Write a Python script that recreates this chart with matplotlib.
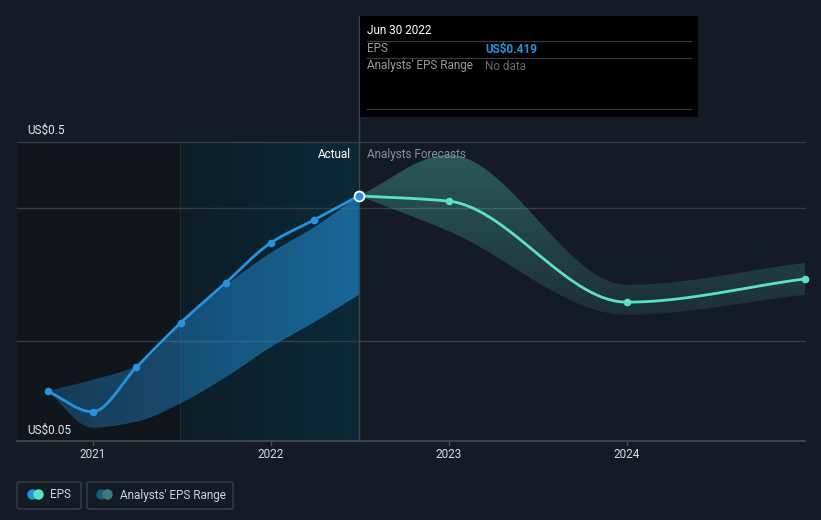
import numpy as np
import matplotlib
matplotlib.use("Agg")
import matplotlib.pyplot as plt
import matplotlib.dates as mdates
from matplotlib.patches import Rectangle, FancyBboxPatch, Circle
from datetime import date

plt.rcParams['font.family'] = ['Roboto', 'DejaVu Sans']

# ---------------- data ----------------
actual_dates = ["2020-09-30", "2020-12-31", "2021-03-31", "2021-06-30",
                "2021-09-30", "2021-12-31", "2022-03-31", "2022-06-30"]
actual_eps = [0.125, 0.094, 0.161, 0.228, 0.288, 0.348, 0.383, 0.419]
past_range_low = [0.125, 0.070, 0.079, 0.107, 0.146, 0.191, 0.229, 0.270]
past_range_high = [0.125, 0.142, 0.163, 0.226, 0.284, 0.333, 0.372, 0.419]

forecast_dates = ["2022-06-30", "2022-12-31", "2023-12-31", "2024-12-31"]
forecast_eps = [0.419, 0.411, 0.259, 0.294]
forecast_low = [0.419, 0.366, 0.240, 0.270]
forecast_high = [0.419, 0.481, 0.285, 0.318]

year_ticks = ["2021", "2022", "2023", "2024"]
y_labels = ["US$0.5", "US$0.05"]
y_label_values = [0.5, 0.05]
grid_values = [0.5, 0.4, 0.2]

BG = "#151b24"
BLUE = "#2394df"
TEAL = "#5ce1c9"

W, H = 821, 520
fig = plt.figure(figsize=(W / 100, H / 100), dpi=100, facecolor=BG)
ax = fig.add_axes([0, 0, 1, 1])
ax.set_facecolor(BG)
ax.axis("off")

# pixel <-> data mapping
d2021 = mdates.date2num(date(2021, 1, 1))
d2024 = mdates.date2num(date(2024, 1, 1))
pxday = (627 - 93) / (d2024 - d2021)
def xd(px):
    return d2021 + (px - 93) / pxday
ypu = (441 - 142) / 0.45
def yd(py):
    return 0.5 - (py - 142) / ypu
ax.set_xlim(xd(0), xd(W))
ax.set_ylim(yd(H), yd(0))

def fx(px):
    return px / W
def fy(py):
    return 1 - py / H

def todn(lst):
    return np.array([mdates.datestr2num(s) for s in lst])

def pchip(x, y, n=30):
    x = np.asarray(x, float); y = np.asarray(y, float)
    h = np.diff(x); d = np.diff(y) / h
    m = np.zeros_like(y)
    m[0] = d[0]; m[-1] = d[-1]
    for k in range(1, len(x) - 1):
        if d[k - 1] * d[k] <= 0:
            m[k] = 0
        else:
            w1 = 2 * h[k] + h[k - 1]; w2 = h[k] + 2 * h[k - 1]
            m[k] = (w1 + w2) / (w1 / d[k - 1] + w2 / d[k])
    xs, ys = [], []
    for k in range(len(x) - 1):
        t = np.linspace(0, 1, n, endpoint=(k == len(x) - 2))
        h00 = 2*t**3 - 3*t**2 + 1; h10 = t**3 - 2*t**2 + t
        h01 = -2*t**3 + 3*t**2; h11 = t**3 - t**2
        xs.append(x[k] + t * h[k])
        ys.append(h00*y[k] + h10*h[k]*m[k] + h01*y[k+1] + h11*h[k]*m[k+1])
    return np.concatenate(xs), np.concatenate(ys)

ax_x = todn(actual_dates)
fc_x = todn(forecast_dates)

# ---------------- background regions ----------------
ax.add_patch(Rectangle((xd(17), yd(441)), xd(180) - xd(17), yd(142) - yd(441),
                       facecolor="#11151c", edgecolor="none", zorder=0))
grad = np.linspace(0, 1, 256)[None, :]
c0 = np.array([0x0d, 0x1d, 0x27]) / 255
c1 = np.array([0x0b, 0x2a, 0x3a]) / 255
img = c0[None, None, :] * (1 - grad[..., None]) + c1[None, None, :] * grad[..., None]
ax.imshow(img, extent=(xd(180), xd(359), yd(441), yd(142)), aspect="auto", zorder=0.5,
          interpolation="bilinear")
ax.plot([xd(180), xd(180)], [yd(441), yd(142)], color="#1c2a35", lw=0.8, zorder=0.6)

# grid lines
for g in grid_values:
    ax.plot([xd(17), xd(805)], [g, g], color="#363b46", lw=1, zorder=1)
ax.plot([xd(17), xd(805)], [0.05, 0.05], color="#454b56", lw=1.2, zorder=1)
for i, yl in enumerate(year_ticks):
    xv = mdates.date2num(date(int(yl), 1, 1))
    ax.plot([xv, xv], [0.05, yd(445)], color="#454b56", lw=1, zorder=1)
    ax.text(xv, yd(455), yl, color="#d8dade", fontsize=8.5, ha="center", va="center")

for lab, v in zip(y_labels, y_label_values):
    ax.text(xd(27), yd(130) if v == 0.5 else yd(430), lab, color="#e6e8ea",
            fontsize=8.5, ha="left", va="center")

# vertical "today" line
ax.plot([xd(359), xd(359)], [yd(441), yd(16)], color="#34475a", lw=1, zorder=2)

# ---------------- past range band (gradient) ----------------
lx, ly = pchip(ax_x, past_range_low)
hx, hy = pchip(ax_x, past_range_high)
poly = ax.fill_between(hx, hy, np.interp(hx, lx, ly), color="none", zorder=2)
g2 = np.linspace(0, 1, 256)[None, :]
rgba = np.zeros((1, 256, 4))
rgba[..., :3] = np.array([0x23, 0x94, 0xdf]) / 255
rgba[..., 3] = 0.30 + 0.28 * g2
im = ax.imshow(rgba, extent=(xd(47), xd(359), yd(441), yd(142)), aspect="auto",
               zorder=2, interpolation="bilinear")
im.set_clip_path(poly.get_paths()[0], transform=ax.transData)

# ---------------- forecast band (vertical gradient) ----------------
flx, fly = pchip(fc_x, forecast_low)
fhx, fhy = pchip(fc_x, forecast_high)
poly2 = ax.fill_between(fhx, fhy, np.interp(fhx, flx, fly), color="none", zorder=2)
gv = np.linspace(1, 0, 256)[:, None]
rgba2 = np.zeros((256, 1, 4))
rgba2[..., :3] = np.array([0x5c, 0xe1, 0xc9]) / 255
rgba2[..., 3] = 0.10 + 0.22 * gv
im2 = ax.imshow(rgba2, extent=(xd(359), xd(805), yd(320), yd(150)), aspect="auto",
                zorder=2, interpolation="bilinear")
im2.set_clip_path(poly2.get_paths()[0], transform=ax.transData)

# ---------------- lines ----------------
sx, sy = pchip(ax_x, actual_eps)
ax.plot(sx, sy, color=BLUE, lw=2.0, zorder=4, solid_capstyle="round")
ax.plot(ax_x[:-1], actual_eps[:-1], "o", color=BLUE, ms=5.5, zorder=5, mec="none")
ax.plot(ax_x[-1], actual_eps[-1], "o", color=BLUE, ms=7, mec="white", mew=1.2, zorder=6)

fx_, fy_ = pchip(fc_x, forecast_eps)
ax.plot(fx_, fy_, color=TEAL, lw=2.0, zorder=4, solid_capstyle="round")
ax.plot(fc_x[1:], forecast_eps[1:], "o", color=TEAL, ms=5.5, zorder=5, mec="none")
ax.plot(ax_x[-1], actual_eps[-1], "o", color=BLUE, ms=7, mec="white", mew=1.2, zorder=6)

ax.text(xd(351), yd(154), "Actual", color="#ffffff", fontsize=8.5, ha="right", va="center")
ax.text(xd(367), yd(154), "Analysts Forecasts", color="#8a8f98", fontsize=8.5,
        ha="left", va="center")

# ---------------- tooltip ----------------
fig.patches.append(Rectangle((fx(360), fy(117)), fx(698) - fx(360), fy(16) - fy(117),
                             transform=fig.transFigure, facecolor="#000000",
                             edgecolor="none", zorder=10))
for yy in [41, 58, 109]:
    fig.add_artist(plt.Line2D([fx(367), fx(691)], [fy(yy), fy(yy)], color="#3a3a3a",
                              lw=0.9, transform=fig.transFigure, zorder=11))
fig.text(fx(367), fy(31), "Jun 30 2022", color="#ffffff", fontsize=8.5, va="center", zorder=12)
fig.text(fx(367), fy(49), "EPS", color="#9a9a9a", fontsize=8.5, va="center", zorder=12)
fig.text(fx(485), fy(49), "US$0.419", color=BLUE, fontsize=8.5, fontweight="bold",
         va="center", zorder=12)
fig.text(fx(367), fy(66), "Analysts' EPS Range", color="#9a9a9a", fontsize=8.5,
         va="center", zorder=12)
fig.text(fx(485), fy(66), "No data", color="#6a6a6a", fontsize=8.5, va="center", zorder=12)

# ---------------- legend ----------------
for (x0, x1) in [(17, 81), (87, 233)]:
    fig.patches.append(FancyBboxPatch((fx(x0), fy(509)), fx(x1) - fx(x0), fy(482) - fy(509),
                                      boxstyle="round,pad=0,rounding_size=0.004",
                                      transform=fig.transFigure, facecolor="none",
                                      edgecolor="#3a3f4a", lw=1))
def dot(px, py, c):
    fig.add_artist(plt.Line2D([fx(px)], [fy(py)], marker="o", ms=7.5, color=c,
                              mec="none", transform=fig.transFigure))
dot(32, 494, BLUE); dot(38, 494, TEAL)
dot(101, 494, "#1f5a85"); dot(107, 494, "#3a7d74")
fig.text(fx(50), fy(495), "EPS", color="#d0d3d8", fontsize=8.5, va="center")
fig.text(fx(120), fy(495), "Analysts' EPS Range", color="#d0d3d8", fontsize=8.5, va="center")

fig.savefig("out.png", dpi=100, facecolor=BG)
